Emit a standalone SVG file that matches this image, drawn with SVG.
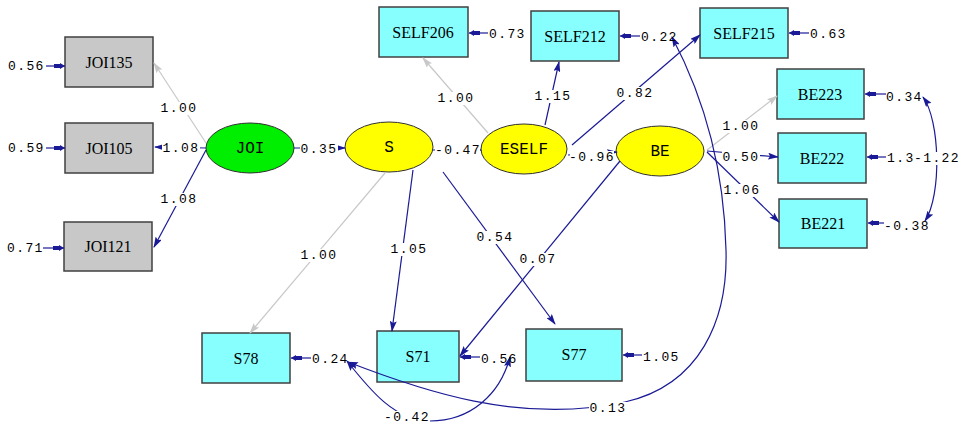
<svg xmlns="http://www.w3.org/2000/svg" width="963" height="424" viewBox="0 0 963 424">
<style>
.box{stroke:#404040;stroke-width:1.5}
.obs{fill:#88ffff}
.joi{fill:#c8c8c8}
.lat{stroke:#303030;stroke-width:1}
.bl{fill:none;stroke:#1a1a96;stroke-width:1.2}
.gr{fill:none;stroke:#c8c8c8;stroke-width:1.2}
.nl{font-family:"Liberation Serif",serif;font-size:16px;fill:#000;text-anchor:middle}
.ll{font-family:"Liberation Mono",monospace;font-size:16px;fill:#000;text-anchor:middle}
.num{font-family:"Liberation Mono",monospace;font-size:13px;letter-spacing:1.4px;fill:#000}
.hl{text-anchor:middle}
.bg{fill:#fff}
</style>
<defs>
<marker id="ab" markerUnits="userSpaceOnUse" markerWidth="11" markerHeight="7" refX="10" refY="3.5" orient="auto-start-reverse">
<path d="M0,0 L11,3.5 L0,7 L2,3.5 z" fill="#1a1a96"/>
</marker>
<marker id="ag" markerUnits="userSpaceOnUse" markerWidth="11" markerHeight="7" refX="10" refY="3.5" orient="auto">
<path d="M0,0 L11,3.5 L0,7 L2,3.5 z" fill="#c8c8c8"/>
</marker>
<marker id="ae" markerUnits="userSpaceOnUse" markerWidth="12" markerHeight="6" refX="11" refY="3" orient="auto">
<path d="M0,1 L6,1 L6,0 L11,3 L6,6 L6,5 L0,5 z" fill="#1a1a96"/>
</marker>
</defs>

<g id="JOI135"><rect class="box joi" x="65" y="37" width="88" height="50"/><text class="nl" x="109" y="68">JOI135</text></g>
<g id="JOI105"><rect class="box joi" x="65" y="123" width="88" height="50"/><text class="nl" x="109" y="154">JOI105</text></g>
<g id="JOI121"><rect class="box joi" x="64" y="222" width="88" height="49"/><text class="nl" x="108" y="252">JOI121</text></g>
<g id="SELF206"><rect class="box obs" x="379" y="7" width="89" height="50"/><text class="nl" x="423" y="38">SELF206</text></g>
<g id="SELF212"><rect class="box obs" x="531" y="11" width="88" height="50"/><text class="nl" x="575" y="42">SELF212</text></g>
<g id="SELF215"><rect class="box obs" x="700" y="8" width="88" height="50"/><text class="nl" x="744" y="39">SELF215</text></g>
<g id="BE223"><rect class="box obs" x="777" y="69" width="87" height="50"/><text class="nl" x="820" y="100">BE223</text></g>
<g id="BE222"><rect class="box obs" x="778" y="133" width="88" height="50"/><text class="nl" x="822" y="164">BE222</text></g>
<g id="BE221"><rect class="box obs" x="779" y="199" width="88" height="49"/><text class="nl" x="823" y="229">BE221</text></g>
<g id="S78"><rect class="box obs" x="202" y="333" width="88" height="50"/><text class="nl" x="246" y="364">S78</text></g>
<g id="S71"><rect class="box obs" x="377" y="331" width="82" height="51"/><text class="nl" x="418" y="362">S71</text></g>
<g id="S77"><rect class="box obs" x="526" y="329" width="96" height="52"/><text class="nl" x="574" y="360">S77</text></g>

<g id="JOI"><ellipse class="lat" cx="250" cy="148" rx="44" ry="25" fill="#00ee00"/><text class="ll" x="250" y="153">JOI</text></g>
<g id="S"><ellipse class="lat" cx="389" cy="147" rx="44" ry="25" fill="#ffff00"/><text class="ll" x="389" y="152">S</text></g>
<g id="ESELF"><ellipse class="lat" cx="524" cy="149" rx="43" ry="25" fill="#ffff00"/><text class="ll" x="524" y="154">ESELF</text></g>
<g id="BE"><ellipse class="lat" cx="660" cy="151" rx="44" ry="25" fill="#ffff00"/><text class="ll" x="660" y="156">BE</text></g>

<g id="connectors">
<line class="gr" x1="206" y1="143" x2="154" y2="63" marker-end="url(#ag)"/>
<line class="bl" x1="206" y1="148" x2="155" y2="147" marker-end="url(#ab)"/>
<line class="bl" x1="206" y1="150" x2="154" y2="247" marker-end="url(#ab)"/>
<line class="bl" x1="294" y1="148" x2="345" y2="148" marker-end="url(#ab)"/>
<line class="bl" x1="433" y1="150" x2="481" y2="150" marker-end="url(#ab)"/>
<line class="gr" x1="488" y1="133" x2="423" y2="58" marker-end="url(#ag)"/>
<line class="bl" x1="545" y1="125" x2="559" y2="62" marker-end="url(#ab)"/>
<line class="bl" x1="572" y1="145" x2="700" y2="35" marker-end="url(#ab)"/>
<line class="bl" x1="568" y1="155" x2="617" y2="152" marker-end="url(#ab)"/>
<line class="gr" x1="707" y1="150" x2="777" y2="96" marker-end="url(#ag)"/>
<line class="bl" x1="707" y1="151" x2="778" y2="157" marker-end="url(#ab)"/>
<line class="bl" x1="707" y1="152" x2="779" y2="222" marker-end="url(#ab)"/>
<line class="bl" x1="620" y1="161" x2="460" y2="356" marker-end="url(#ab)"/>
<line class="gr" x1="385" y1="173" x2="250" y2="333" marker-end="url(#ag)"/>
<line class="bl" x1="413" y1="170" x2="392" y2="331" marker-end="url(#ab)"/>
<line class="bl" x1="443" y1="172" x2="555" y2="324" marker-end="url(#ab)"/>

<line class="bl" x1="46" y1="66" x2="65" y2="66" marker-end="url(#ae)"/>
<line class="bl" x1="46" y1="148" x2="65" y2="148" marker-end="url(#ae)"/>
<line class="bl" x1="43" y1="248" x2="64" y2="248" marker-end="url(#ae)"/>
<line class="bl" x1="488" y1="33" x2="469" y2="33" marker-end="url(#ae)"/>
<line class="bl" x1="640" y1="36" x2="620" y2="36" marker-end="url(#ae)"/>
<line class="bl" x1="809" y1="33" x2="789" y2="33" marker-end="url(#ae)"/>
<line class="bl" x1="886" y1="94" x2="865" y2="94" marker-end="url(#ae)"/>
<line class="bl" x1="886" y1="157" x2="867" y2="157" marker-end="url(#ae)"/>
<line class="bl" x1="884" y1="223" x2="868" y2="223" marker-end="url(#ae)"/>
<line class="bl" x1="311" y1="358" x2="291" y2="358" marker-end="url(#ae)"/>
<line class="bl" x1="480" y1="357" x2="460" y2="357" marker-end="url(#ae)"/>
<line class="bl" x1="642" y1="355" x2="623" y2="355" marker-end="url(#ae)"/>

<path class="bl" d="M923,97 C940,120 942,195 925,221" marker-start="url(#ab)" marker-end="url(#ab)"/>
<path class="bl" d="M347,361 C370,390 395,421 430,421 C470,421 500,395 510,357" marker-start="url(#ab)" marker-end="url(#ab)"/>
<path class="bl" d="M348,362 C420,390 520,425 625,402 C700,385 728,320 726,250 C724,160 700,90 672,37" marker-start="url(#ab)" marker-end="url(#ab)"/>

<rect class="bg" x="160" y="102" width="38" height="13"/>
<rect class="bg" x="162" y="142" width="38" height="13"/>
<rect class="bg" x="160" y="193" width="38" height="13"/>
<rect class="bg" x="300" y="143" width="38" height="13"/>
<rect class="bg" x="435" y="144" width="45" height="13"/>
<rect class="bg" x="437" y="92" width="38" height="13"/>
<rect class="bg" x="534" y="90" width="38" height="13"/>
<rect class="bg" x="616" y="87" width="38" height="13"/>
<rect class="bg" x="570" y="151" width="44" height="13"/>
<rect class="bg" x="722" y="120" width="38" height="13"/>
<rect class="bg" x="722" y="151" width="38" height="13"/>
<rect class="bg" x="723" y="184" width="38" height="13"/>
<rect class="bg" x="519" y="253" width="38" height="13"/>
<rect class="bg" x="300" y="249" width="38" height="13"/>
<rect class="bg" x="390" y="243" width="38" height="13"/>
<rect class="bg" x="476" y="231" width="38" height="13"/>
<rect class="bg" x="914" y="152" width="46" height="13"/>
<rect class="bg" x="384" y="411" width="46" height="13"/>
<rect class="bg" x="589" y="402" width="38" height="13"/>

<text class="num hl" x="179" y="112">1.00</text>
<text class="num hl" x="181" y="152">1.08</text>
<text class="num hl" x="179" y="203">1.08</text>
<text class="num hl" x="319" y="153">0.35</text>
<text class="num hl" x="458" y="154">-0.47</text>
<text class="num hl" x="456" y="102">1.00</text>
<text class="num hl" x="553" y="100">1.15</text>
<text class="num hl" x="635" y="97">0.82</text>
<text class="num hl" x="592" y="161">-0.96</text>
<text class="num hl" x="741" y="130">1.00</text>
<text class="num hl" x="741" y="161">0.50</text>
<text class="num hl" x="742" y="194">1.06</text>
<text class="num hl" x="538" y="263">0.07</text>
<text class="num hl" x="319" y="259">1.00</text>
<text class="num hl" x="409" y="253">1.05</text>
<text class="num hl" x="495" y="241">0.54</text>
<text class="num hl" x="937" y="162">-1.22</text>
<text class="num hl" x="407" y="421">-0.42</text>
<text class="num hl" x="608" y="412">0.13</text>

<text class="num" x="8" y="70">0.56</text>
<text class="num" x="8" y="152">0.59</text>
<text class="num" x="7" y="252">0.71</text>
<text class="num" x="489" y="38">0.73</text>
<text class="num" x="641" y="41">0.22</text>
<text class="num" x="810" y="38">0.63</text>
<text class="num" x="886" y="101">0.34</text>
<text class="num" x="887" y="162">1.3</text>
<text class="num" x="884" y="230">-0.38</text>
<text class="num" x="312" y="363">0.24</text>
<text class="num" x="481" y="363">0.56</text>
<text class="num" x="643" y="361">1.05</text>
</g>
</svg>
